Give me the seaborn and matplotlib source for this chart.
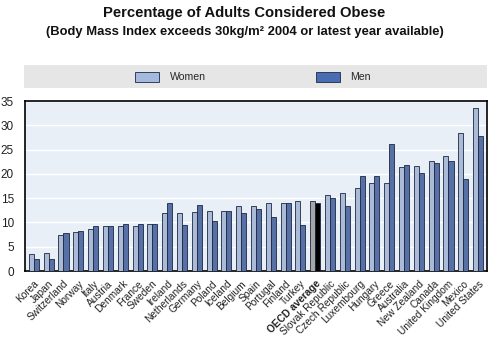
import matplotlib
matplotlib.use("Agg")
import matplotlib.pyplot as plt
import seaborn as sns
import pandas as pd
import numpy as np
from matplotlib.patches import Patch, Rectangle

countries = ["Korea", "Japan", "Switzerland", "Norway", "Italy", "Austria", "Denmark",
             "France", "Sweden", "Ireland", "Netherlands", "Germany", "Poland", "Iceland",
             "Belgium", "Spain", "Portugal", "Finland", "Turkey", "OECD average",
             "Slovak Republic", "Czech Republic", "Luxembourg", "Hungary", "Greece",
             "Australia", "New Zealand", "Canada", "United Kingdom", "Mexico", "United States"]
women = [3.5, 3.7, 7.5, 8.0, 8.6, 9.2, 9.2, 9.2, 9.7, 12.0, 12.0, 12.2, 12.4, 12.4,
         13.4, 13.4, 13.9, 13.9, 14.5, 14.5, 15.6, 16.0, 17.1, 18.1, 18.1, 21.5, 21.7,
         22.6, 23.7, 28.5, 33.5]
men = [2.5, 2.5, 7.8, 8.2, 9.2, 9.2, 9.7, 9.7, 9.7, 13.9, 9.5, 13.5, 10.2, 12.4,
       11.9, 12.8, 11.2, 13.9, 9.5, 13.9, 15.1, 13.4, 19.6, 19.6, 26.1, 21.9, 20.1,
       22.3, 22.6, 19.0, 27.7]
series = ["Women", "Men"]
yticks = [0, 5, 10, 15, 20, 25, 30, 35]

df = pd.DataFrame({
    "country": countries * 2,
    "value": women + men,
    "sex": ["Women"] * len(countries) + ["Men"] * len(countries),
})

c_women = "#a4b9de"
c_men = "#4a6cb2"
edge = "#1c2742"

sns.set_style("white")
plt.rcParams['font.family'] = ['Liberation Sans', 'DejaVu Sans']

fig = plt.figure(figsize=(4.89, 3.41), dpi=100)
ax = fig.add_axes([25/489, 1 - 271/341, 462/489, 170/341])
ax.set_facecolor("#e9eff7")

sns.barplot(data=df, x="country", y="value", hue="sex", order=countries,
            hue_order=series, palette=[c_women, c_men], width=0.68,
            edgecolor=edge, linewidth=0.6, ax=ax, legend=False, zorder=3)

oi = countries.index("OECD average")
n = len(countries)
for i, p in enumerate(ax.patches[:2 * n]):
    if i % n == oi:
        p.set_facecolor("#a5a5a5" if i < n else "#000000")

ax.set_ylim(0, 35)
ax.set_xlim(-0.6, n - 0.4)
ax.set_yticks(yticks)
ax.set_yticklabels([str(t) for t in yticks], fontsize=8.5, color="#222222")
ax.yaxis.grid(True, color="white", linewidth=1.0, zorder=0)
ax.set_axisbelow(True)
ax.set_xlabel("")
ax.set_ylabel("")
ax.set_xticks(range(n))
ax.set_xticklabels(countries, rotation=45, ha="right", rotation_mode="anchor",
                   fontsize=7.3, color="#222222")
for lbl in ax.get_xticklabels():
    if lbl.get_text() == "OECD average":
        lbl.set_fontweight("bold")
ax.tick_params(axis="x", length=0, pad=5.5)
ax.tick_params(axis="y", length=0, pad=8)
ax.set_xticks(np.arange(-0.5, n, 1.0), minor=True)
ax.tick_params(axis="x", which="minor", direction="in", length=3, color="black", width=0.8)
for s in ax.spines.values():
    s.set_visible(True)
    s.set_color("black")
    s.set_linewidth(1.2)

fig.text(0.5, 1 - 13/341, "Percentage of Adults Considered Obese", ha="center", va="center",
         fontsize=10.6, fontweight="bold", color="#111111")
fig.text(0.5, 1 - 32/341, "(Body Mass Index exceeds 30kg/m\u00b2 2004 or latest year available)",
         ha="center", va="center", fontsize=9.4, fontweight="bold", color="#111111")

fig.patches.append(Rectangle((24/489, 1 - 88/341), 463/489, 23/341, transform=fig.transFigure,
                             facecolor="#e6e6e6", edgecolor="none", zorder=0))
handles = [Patch(facecolor=c_women, edgecolor=edge, linewidth=0.6),
           Patch(facecolor=c_men, edgecolor=edge, linewidth=0.6)]
fig.legend(handles, series, loc="center", bbox_to_anchor=(253/489, 1 - 77/341), ncol=2,
           frameon=False, fontsize=7.6, handlelength=2.3, handleheight=1.1,
           columnspacing=10.4, handletextpad=1.0)

fig.savefig("out.png", dpi=100)
